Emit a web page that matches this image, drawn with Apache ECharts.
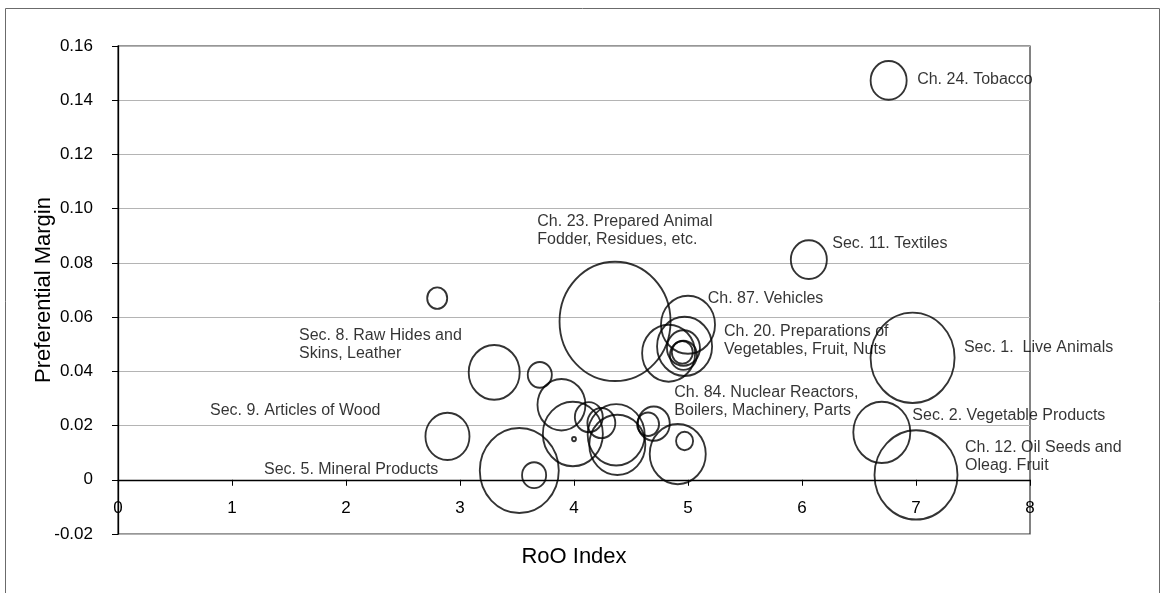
<!DOCTYPE html>
<html>
<head>
<meta charset="utf-8">
<script src="https://cdn.jsdelivr.net/npm/echarts@6/dist/echarts.min.js"></script>
<style>
html,body{margin:0;padding:0;background:#fff;}
#chart{width:1164px;height:593px;}
</style>
</head>
<body>
<div id="chart"></div>
<script>
// RoO Index (x), preferential margin (y), bubble size (relative weight)
const rooIndex = [6.76, 6.06, 4.36, 2.80, 3.30, 3.70, 5.00, 4.97, 4.83, 4.96, 4.96, 4.95,
                  2.89, 3.52, 3.65, 3.89, 3.99, 4.00, 4.13, 4.24, 4.37, 4.38, 4.70, 4.65,
                  4.91, 4.97, 6.97, 6.70, 7.00];
const prefMargin = [0.1473, 0.0812, 0.0584, 0.0670, 0.0396, 0.0387, 0.0572, 0.0492, 0.0467, 0.0486, 0.0459, 0.0470,
                    0.0160, 0.0034, 0.0017, 0.0277, 0.0169, 0.0150, 0.0231, 0.0209, 0.0166, 0.0129, 0.0207, 0.0205,
                    0.0095, 0.0143, 0.0450, 0.0175, 0.0018];
const bubbleWeight = [13.0, 13.0, 123.2, 4.0, 26.0, 5.8, 29.2, 30.3, 28.1, 10.9, 7.3, 4.4,
                      19.4, 62.4, 5.8, 23.0, 36.0, 0.16, 7.8, 7.8, 32.5, 31.4, 10.2, 4.8,
                      31.4, 2.9, 70.6, 32.5, 68.9];

// annotation texts and their anchor points (data units)
const annotText = [
  'Ch. 24. Tobacco',
  'Sec. 11. Textiles',
  'Ch. 23. Prepared Animal\nFodder, Residues, etc.',
  'Ch. 87. Vehicles',
  'Ch. 20. Preparations of\nVegetables, Fruit, Nuts',
  'Ch. 84. Nuclear Reactors,\nBoilers, Machinery, Parts',
  'Sec. 1.  Live Animals',
  'Sec. 2. Vegetable Products',
  'Ch. 12. Oil Seeds and\nOleag. Fruit',
  'Sec. 8. Raw Hides and\nSkins, Leather',
  'Sec. 9. Articles of Wood',
  'Sec. 5. Mineral Products'
];
const annotX = [7.01, 6.265, 3.678, 5.173, 5.316, 4.88, 7.42, 6.968, 7.43, 1.588, 0.807, 1.281];
const annotY = [0.1475, 0.0873, 0.0918, 0.0668, 0.0513, 0.0288, 0.0486, 0.0236, 0.0084, 0.0500, 0.0257, 0.0037];

const xTicks = {min: 0, max: 8, interval: 1};
const yTicks = {min: -0.02, max: 0.16, interval: 0.02};

const FONT = 'Liberation Sans, Arial, sans-serif';

const bubbles = rooIndex.map((x, i) => [x, prefMargin[i], bubbleWeight[i]]);
const annots = annotText.map((t, i) => ({name: t, value: [annotX[i], annotY[i]]}));

const chart = echarts.init(document.getElementById('chart'), null, {renderer: 'canvas'});
chart.setOption({
  animation: false,
  backgroundColor: '#fff',
  textStyle: {fontFamily: FONT},
  graphic: [{
    type: 'rect',
    shape: {x: 5.5, y: 8.5, width: 1154, height: 600},
    style: {fill: 'none', stroke: '#6b6b6b', lineWidth: 1},
    silent: true
  }],
  grid: {left: 118, right: 134, top: 46, bottom: 59, show: true, borderColor: '#303030', borderWidth: 1.2,
         backgroundColor: 'transparent', containLabel: false, outerBoundsMode: 'none'},
  xAxis: [
    {
      type: 'value', min: xTicks.min, max: xTicks.max, interval: xTicks.interval,
      axisLine: {show: true, onZero: true, lineStyle: {color: '#000', width: 1.3}},
      axisTick: {show: true, length: 6, lineStyle: {color: '#000'}},
      axisLabel: {show: false},
      splitLine: {show: false}
    },
    {
      type: 'value', position: 'bottom', min: xTicks.min, max: xTicks.max, interval: xTicks.interval,
      name: 'RoO Index', nameLocation: 'middle', nameGap: 12, nameMoveOverlap: false,
      nameTextStyle: {fontSize: 22, color: '#000', fontFamily: FONT, verticalAlign: 'top'},
      axisLine: {show: false, onZero: false},
      axisTick: {show: false},
      axisLabel: {inside: true, margin: 17, fontSize: 17, color: '#000', fontFamily: FONT,
                  showMinLabel: true, showMaxLabel: true},
      splitLine: {show: false}
    }
  ],
  yAxis: {
    type: 'value', min: yTicks.min, max: yTicks.max, interval: yTicks.interval,
    name: 'Preferential Margin', nameLocation: 'middle', nameGap: 63, nameRotate: 90, nameMoveOverlap: false,
    nameTextStyle: {fontSize: 22, color: '#000', fontFamily: FONT},
    axisLine: {show: true, onZero: false, lineStyle: {color: '#000', width: 1.3}},
    axisTick: {show: true, length: 6, lineStyle: {color: '#000'}},
    axisLabel: {
      margin: 25, fontSize: 17, color: '#000', fontFamily: FONT, showMinLabel: true, showMaxLabel: true,
      formatter: v => Math.abs(v) < 1e-9 ? '0' : v.toFixed(2)
    },
    splitLine: {show: true, lineStyle: {color: '#b4b4b4', width: 1}}
  },
  series: [
    {
      type: 'scatter',
      data: bubbles,
      symbol: 'circle',
      symbolSize: val => { const w = 10 * Math.sqrt(val[2]); return [w, w * 1.075]; },
      itemStyle: {color: 'rgba(0,0,0,0)', borderColor: '#000', borderWidth: 1.9},
      silent: true,
      clip: false,
      z: 3
    },
    {
      type: 'scatter',
      data: annots,
      symbolSize: 0,
      silent: true,
      clip: false,
      z: 4,
      label: {
        show: true, position: 'right', distance: 0,
        formatter: p => p.name,
        fontSize: 16, lineHeight: 18, color: '#000', fontFamily: FONT, align: 'left'
      }
    }
  ]
});
</script>
</body>
</html>
